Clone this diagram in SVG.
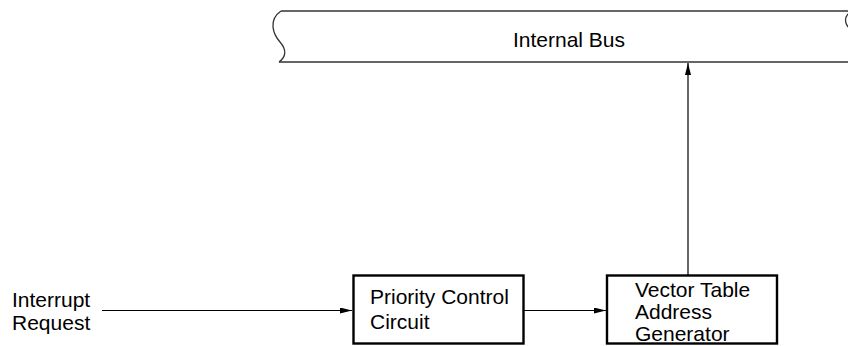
<svg xmlns="http://www.w3.org/2000/svg" width="848" height="346" viewBox="0 0 848 346">
<style>
  text { font-family: "Liberation Sans", Arial, sans-serif; font-size: 21px; fill: #000; }
  .box { fill: #fff; stroke: #000; stroke-width: 2.4; }
  .bus { fill: none; stroke: #333; stroke-width: 1.3; }
  .wire { fill: none; stroke: #000; stroke-width: 1.2; }
</style>
<defs>
  <marker id="arr" viewBox="0 0 12 6" refX="12" refY="3" markerWidth="12" markerHeight="6" markerUnits="userSpaceOnUse" orient="auto">
    <path d="M0,0 L12,3 L0,6 z" fill="#000"/>
  </marker>
</defs>
<g id="internal-bus">
  <path class="bus" d="M281,11 L848,11"/>
  <path class="bus" d="M279,62 L848,62"/>
  <path class="bus" d="M281,11 C268,20 273,34 280,42 C287,50 286,57 279,62"/>
  <path class="bus" d="M848,14 Q843,20 848,27"/>
  <text x="569" y="47" text-anchor="middle">Internal Bus</text>
</g>
<g id="interrupt-request">
  <text x="12" y="307">Interrupt</text>
  <text x="12" y="330">Request</text>
</g>
<g id="priority-control">
  <rect class="box" x="353.5" y="275.5" width="170" height="68"/>
  <text x="370" y="304">Priority Control</text>
  <text x="370" y="329">Circuit</text>
</g>
<g id="vector-table">
  <rect class="box" x="607" y="275.5" width="170" height="68"/>
  <text x="635" y="297">Vector Table</text>
  <text x="635" y="319">Address</text>
  <text x="635" y="341">Generator</text>
</g>
<g id="connectors">
  <path class="wire" d="M102,310.5 L352,310.5" marker-end="url(#arr)"/>
  <path class="wire" d="M524,310.5 L606,310.5" marker-end="url(#arr)"/>
  <path class="wire" d="M688,275 L688,63" marker-end="url(#arr)"/>
</g>
</svg>
